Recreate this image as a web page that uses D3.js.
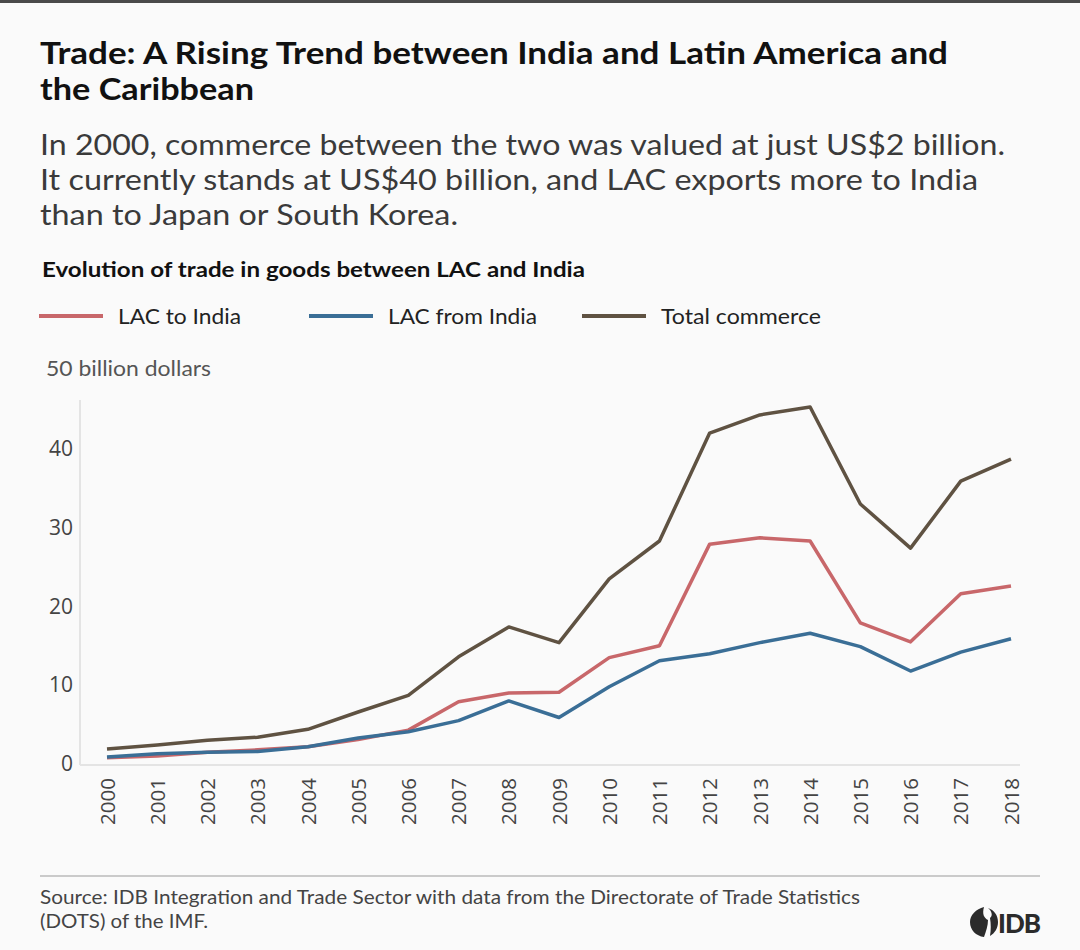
<!DOCTYPE html>
<html>
<head>
<meta charset="utf-8">
<script src="https://cdn.jsdelivr.net/npm/d3@7"></script>
<style>
  body { margin: 0; background: #fafafa; }
  svg { display: block; font-family: Lato, "Open Sans", sans-serif; }
</style>
</head>
<body>
<svg id="chart" width="1080" height="950"></svg>
<script>
var years = ["2000","2001","2002","2003","2004","2005","2006","2007","2008","2009",
             "2010","2011","2012","2013","2014","2015","2016","2017","2018"];
var lacToIndia = [0.8, 1.0, 1.5, 1.8, 2.2, 3.1, 4.3, 7.9, 9.0, 9.1,
                  13.5, 15.0, 27.9, 28.7, 28.3, 17.9, 15.5, 21.6, 22.6];
var lacFromIndia = [0.9, 1.3, 1.5, 1.6, 2.2, 3.3, 4.1, 5.5, 8.0, 5.9,
                    9.8, 13.1, 14.0, 15.4, 16.6, 14.9, 11.8, 14.2, 15.9];
var totalCommerce = [1.9, 2.4, 3.0, 3.4, 4.4, 6.6, 8.7, 13.6, 17.4, 15.4,
                     23.5, 28.3, 42.0, 44.3, 45.3, 33.0, 27.4, 35.9, 38.7];
var yTicks = [0, 10, 20, 30, 40];

var series = [
  {name: "LAC to India", values: lacToIndia, color: "#c8676a", lx: 39, w: 123},
  {name: "LAC from India", values: lacFromIndia, color: "#3a6e96", lx: 309, w: 149},
  {name: "Total commerce", values: totalCommerce, color: "#5f5242", lx: 582, w: 160}
];

var svg = d3.select("#chart");

// stretch a text to the width it has in the original
function fit(sel, w) {
  sel.attr("textLength", w).attr("lengthAdjust", "spacingAndGlyphs");
}

// top border
svg.append("rect").attr("x", 0).attr("y", 0).attr("width", 1080).attr("height", 3).attr("fill", "#4a4a4a");

// title
var title = [["Trade: A Rising Trend between India and Latin America and", 908],
             ["the Caribbean", 214]];
svg.selectAll(".title").data(title).enter().append("text")
  .attr("x", 40).attr("y", (d, i) => 64 + i * 36)
  .attr("fill", "#111").style("font-size", "31px").style("font-weight", "bold")
  .text(d => d[0]).each(function(d) { fit(d3.select(this), d[1]); });

// subtitle
var sub = [["In 2000, commerce between the two was valued at just US$2 billion.", 965],
           ["It currently stands at US$40 billion, and LAC exports more to India", 938],
           ["than to Japan or South Korea.", 418]];
svg.selectAll(".sub").data(sub).enter().append("text")
  .attr("x", 40).attr("y", (d, i) => 155 + i * 35)
  .attr("fill", "#3a3a3a").style("font-size", "28px")
  .text(d => d[0]).each(function(d) { fit(d3.select(this), d[1]); });

svg.append("text").attr("x", 42).attr("y", 277).attr("fill", "#111")
  .style("font-size", "21px").style("font-weight", "bold")
  .text("Evolution of trade in goods between LAC and India")
  .call(fit, 543);

// legend
var leg = svg.selectAll(".leg").data(series).enter().append("g");
leg.append("line").attr("x1", d => d.lx).attr("x2", d => d.lx + 64)
  .attr("y1", 316).attr("y2", 316).attr("stroke", d => d.color).attr("stroke-width", 4);
leg.append("text").attr("x", d => d.lx + 79).attr("y", 324).attr("fill", "#222")
  .style("font-size", "22px").text(d => d.name)
  .each(function(d) { fit(d3.select(this), d.w); });

svg.append("text").attr("x", 46).attr("y", 376).attr("fill", "#555")
  .style("font-size", "21px").text("50 billion dollars").call(fit, 165);

// scales
var x = d3.scalePoint().domain(years).range([107, 1011]);
var y = d3.scaleLinear().domain([0, 50]).range([764, 370]);

// axis frame
svg.append("line").attr("x1", 80).attr("x2", 80).attr("y1", 400).attr("y2", 765)
  .attr("stroke", "#e4e4e4").attr("stroke-width", 2);
svg.append("line").attr("x1", 80).attr("x2", 1020).attr("y1", 765).attr("y2", 765)
  .attr("stroke", "#e4e4e4").attr("stroke-width", 2);

var yAxis = svg.append("g").attr("transform", "translate(73,0)")
  .call(d3.axisLeft(y).tickValues(yTicks).tickSize(0).tickPadding(0));
yAxis.select(".domain").remove();
yAxis.selectAll("text").attr("fill", "#444").style("font-size", "21px")
  .style("font-family", "'Open Sans', sans-serif");

var xAxis = svg.append("g").attr("transform", "translate(0,778)")
  .call(d3.axisBottom(x).tickSize(0).tickPadding(0));
xAxis.select(".domain").remove();
xAxis.selectAll("text")
  .attr("transform", "rotate(-90)")
  .attr("x", 0).attr("y", 0).attr("dy", "0.35em")
  .style("text-anchor", "end")
  .attr("fill", "#444").style("font-size", "20.5px")
  .style("font-family", "'Open Sans', sans-serif");

// lines
var line = d3.line().x((d, i) => x(years[i])).y(d => y(d));
svg.selectAll(".series").data(series).enter().append("path")
  .attr("d", d => line(d.values))
  .attr("fill", "none").attr("stroke", d => d.color)
  .attr("stroke-width", 3.5).attr("stroke-linejoin", "round");

// footer
svg.append("line").attr("x1", 40).attr("x2", 1040).attr("y1", 876).attr("y2", 876)
  .attr("stroke", "#999").attr("stroke-width", 1.2);
var src = [["Source: IDB Integration and Trade Sector with data from the Directorate of Trade Statistics", 820],
           ["(DOTS) of the IMF.", 168]];
svg.selectAll(".src").data(src).enter().append("text")
  .attr("x", 40).attr("y", (d, i) => 904 + i * 24)
  .attr("fill", "#444").style("font-size", "19px")
  .text(d => d[0]).each(function(d) { fit(d3.select(this), d[1]); });

// IDB logo
var logo = svg.append("g").attr("transform", "translate(970,906)");
logo.append("path")
  .attr("d", "M14,1 C6,3 0,9 0,16 C0,24 6,30 14,31 C16,25 18,20 18,14 C14,12 12,8 14,1 Z M18,2 C24,4 28,9 28,16 C28,22 25,27 20,30 C21,24 21,18 20,12 C23,10 22,5 18,2 Z")
  .attr("fill", "#2b2b2b");
logo.append("text").attr("x", 28).attr("y", 27).attr("fill", "#2b2b2b")
  .style("font-size", "26px").style("font-weight", "900").style("letter-spacing", "-1px").text("IDB");
</script>
</body>
</html>
